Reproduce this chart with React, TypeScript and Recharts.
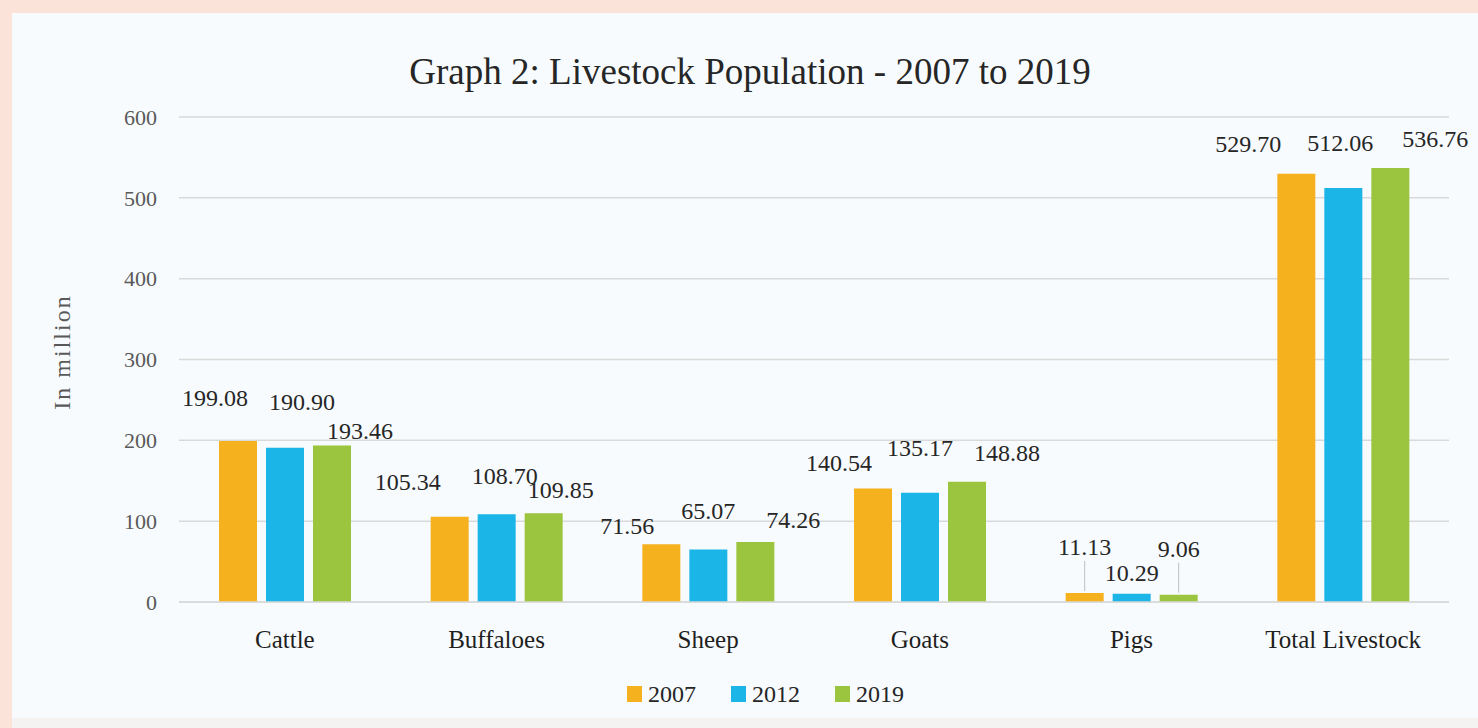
import React from "react";
import { BarChart, Bar, XAxis, YAxis, CartesianGrid, LabelList } from "recharts";

const categories = ["Cattle", "Buffaloes", "Sheep", "Goats", "Pigs", "Total Livestock"];
const values2007 = [199.08, 105.34, 71.56, 140.54, 11.13, 529.7];
const values2012 = [190.9, 108.7, 65.07, 135.17, 10.29, 512.06];
const values2019 = [193.46, 109.85, 74.26, 148.88, 9.06, 536.76];
const yTicks = [0, 100, 200, 300, 400, 500, 600];
const seriesNames = ["2007", "2012", "2019"];

// label nudges (dx, rise above bar top), mimicking the manual placement of the original
const nudge2007: [number, number][] = [[-23, 43], [-42, 35], [-34, 18], [-34, 25], [0, 46], [-48, 30]];
const nudge2012: [number, number][] = [[17, 46], [8, 38], [0, 38], [0, 45], [0, 21], [-3, 45]];
const nudge2019: [number, number][] = [[28, 15], [17, 23], [38, 22], [40, 29], [0, 46], [45, 29]];
const leader2007 = [false, false, false, false, true, false];
const leader2012 = [false, false, false, false, false, false];
const leader2019 = [false, false, false, false, true, false];

const colors = ["#F6B11F", "#1CB5E8", "#9CC53F"];
const FONT = "'Liberation Serif', 'DejaVu Serif', serif";

const data = categories.map((c, i) => ({
  name: c,
  v2007: values2007[i],
  v2012: values2012[i],
  v2019: values2019[i],
}));

const makeLabel = (nudges: [number, number][], leaders: boolean[]) => (props: any) => {
  const { x, y, width, value, index } = props;
  const [dx, up] = nudges[index];
  const cx = Number(x) + Number(width) / 2;
  const top = Number(y);
  const ly = top - up;
  return (
    <g>
      {leaders[index] ? (
        <line x1={cx} x2={cx} y1={top - 2} y2={ly + 14} stroke="#bfbfbf" strokeWidth={1} />
      ) : null}
      <text
        x={cx + dx}
        y={ly + 8}
        textAnchor="middle"
        fontFamily={FONT}
        fontSize={24}
        fill="#262626"
      >
        {Number(value).toFixed(2)}
      </text>
    </g>
  );
};

export default function App() {
  const series = [
    { key: "v2007", nudges: nudge2007, leaders: leader2007 },
    { key: "v2012", nudges: nudge2012, leaders: leader2012 },
    { key: "v2019", nudges: nudge2019, leaders: leader2019 },
  ];
  return (
    <div
      style={{
        position: "absolute",
        left: 0,
        top: 0,
        width: 1478,
        height: 728,
        background: "#f7fbfd",
        overflow: "hidden",
      }}
    >
      <div style={{ position: "absolute", left: 0, top: 0, width: 1478, height: 13, background: "#fbe3da" }} />
      <div style={{ position: "absolute", left: 0, top: 0, width: 12, height: 728, background: "#fbe3da" }} />
      <div style={{ position: "absolute", left: 12, top: 718, width: 1466, height: 10, background: "#f4f3f2" }} />
      <div
        style={{
          position: "absolute",
          left: 0,
          top: 0,
          width: 1478,
          height: 728,
        }}
      >
        <BarChart
          width={1478}
          height={728}
          data={data}
          margin={{ top: 117, right: 29, bottom: 96, left: 119 }}
          barGap={9}
          barSize={38}
        >
          <text
            x={750}
            y={84}
            textAnchor="middle"
            fontFamily={FONT}
            fontSize={37}
            fill="#262626"
          >
            Graph 2: Livestock Population - 2007 to 2019
          </text>
          <text
            x={0}
            y={0}
            transform="translate(70,352) rotate(-90)"
            textAnchor="middle"
            fontFamily={FONT}
            fontSize={24}
            letterSpacing={2}
            fill="#595959"
          >
            In million
          </text>
          <CartesianGrid vertical={false} stroke="#d9d9d9" strokeWidth={1.5} />
          <XAxis
            dataKey="name"
            axisLine={{ stroke: "#d9d9d9", strokeWidth: 1.5 }}
            tickLine={false}
            height={30}
            tickMargin={22}
            tick={{ fontFamily: FONT, fontSize: 25, fill: "#1f1f1f" }}
            interval={0}
          />
          <YAxis
            width={60}
            domain={[0, 600]}
            ticks={yTicks}
            axisLine={false}
            tickLine={false}
            tickMargin={16}
            tick={{ fontFamily: FONT, fontSize: 22, fill: "#595959" }}
          />
          {series.map((s, i) => (
            <Bar
              key={s.key}
              dataKey={s.key}
              name={seriesNames[i]}
              fill={colors[i]}
              isAnimationActive={false}
            >
              <LabelList dataKey={s.key} content={makeLabel(s.nudges, s.leaders)} />
            </Bar>
          ))}
        </BarChart>
      </div>
      <div
        style={{
          position: "absolute",
          left: 627,
          top: 679,
          display: "flex",
          alignItems: "center",
          fontFamily: FONT,
          fontSize: 24,
          lineHeight: "30px",
          color: "#262626",
        }}
      >
        {seriesNames.map((n, i) => (
          <div
            key={n}
            style={{ display: "flex", alignItems: "center", marginRight: i < 2 ? 35 : 0 }}
          >
            <span
              style={{
                display: "inline-block",
                width: 15,
                height: 16,
                background: colors[i],
                marginRight: 6,
              }}
            />
            <span>{n}</span>
          </div>
        ))}
      </div>
    </div>
  );
}
